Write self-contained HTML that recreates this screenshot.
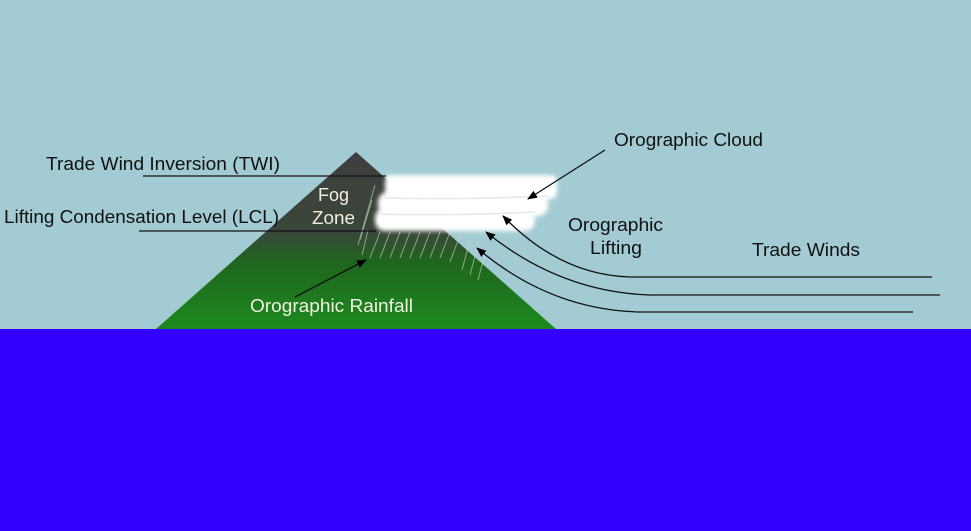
<!DOCTYPE html>
<html><head><style>body{margin:0}svg{display:block}</style></head><body>
<svg width="971" height="531" viewBox="0 0 971 531" xmlns="http://www.w3.org/2000/svg" font-family="Liberation Sans, sans-serif">
<defs>
<linearGradient id="m" x1="0" y1="152" x2="0" y2="329" gradientUnits="userSpaceOnUse">
<stop offset="0" stop-color="#3e3e3e"/><stop offset="0.45" stop-color="#3a463a"/><stop offset="0.62" stop-color="#1f661f"/><stop offset="1" stop-color="#1d8a1d"/></linearGradient>
<marker id="a" markerWidth="10" markerHeight="8" refX="9" refY="4" orient="auto" markerUnits="userSpaceOnUse"><path d="M0,0 L10,4 L0,8 z" fill="#000"/></marker>
<filter id="b"><feGaussianBlur stdDeviation="2"/></filter>
</defs>
<rect width="971" height="531" fill="#a3cbd3"/>
<rect y="329" width="971" height="202" fill="#3300ff"/>
<polygon points="356,152 156,329 556,329" fill="url(#m)"/>
<g stroke="#d8d8c8" stroke-width="1" opacity="0.6">
<path d="M375,185 L358,245 M372,200 L360,240 M368,230 L362,255 M380,232 L370,258 M390,232 L380,258 M400,232 L390,258 M410,232 L400,258 M420,232 L410,258 M430,232 L420,258 M440,232 L430,258 M450,232 L440,258 M460,235 L450,262 M470,240 L462,270 M478,245 L470,275 M486,250 L478,280"/>
</g>
<g filter="url(#b)" fill="#fff">
<rect x="385" y="175" width="172" height="24" rx="6"/>
<rect x="378" y="192" width="170" height="24" rx="10"/>
<rect x="375" y="208" width="160" height="23" rx="10"/>
</g>
<path d="M385,198 Q460,200 548,196 M378,214 Q450,216 535,212" stroke="#e4e8e8" stroke-width="1.5" fill="none"/>
<g stroke="#111" stroke-width="1.3" fill="none">
<line x1="143" y1="176" x2="386" y2="176"/>
<line x1="139" y1="231" x2="376" y2="231"/>
<path d="M932,277 L630,277 Q560,275 503,216" marker-end="url(#a)"/>
<path d="M940,295 L650,295 Q560,292 486,232" marker-end="url(#a)"/>
<path d="M913,312 L640,312 Q550,310 477,248" marker-end="url(#a)"/>
<line x1="605" y1="150" x2="528" y2="199" marker-end="url(#a)"/>
<line x1="295" y1="297" x2="366" y2="260" marker-end="url(#a)"/>
</g>
<g font-size="18" fill="#111">
<text x="46" y="170" textLength="234" lengthAdjust="spacingAndGlyphs">Trade Wind Inversion (TWI)</text>
<text x="4" y="223" textLength="275" lengthAdjust="spacingAndGlyphs">Lifting Condensation Level (LCL)</text>
<text x="614" y="146" textLength="149" lengthAdjust="spacingAndGlyphs">Orographic Cloud</text>
<text x="568" y="231" textLength="95" lengthAdjust="spacingAndGlyphs">Orographic</text>
<text x="590" y="254" textLength="52" lengthAdjust="spacingAndGlyphs">Lifting</text>
<text x="752" y="256" textLength="108" lengthAdjust="spacingAndGlyphs">Trade Winds</text>
</g>
<g font-size="18" fill="#f0f0e0">
<text x="318" y="201" textLength="31" lengthAdjust="spacingAndGlyphs">Fog</text>
<text x="312" y="224" textLength="43" lengthAdjust="spacingAndGlyphs">Zone</text>
<text x="250" y="312" textLength="163" lengthAdjust="spacingAndGlyphs">Orographic Rainfall</text>
</g>
</svg>
</body></html>
